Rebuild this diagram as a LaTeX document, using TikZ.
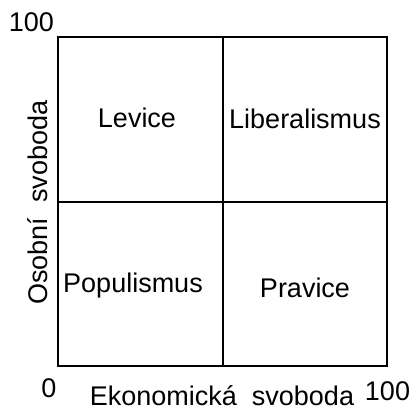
\documentclass[tikz,border=0pt]{standalone}
\usepackage{fontspec}
\setmainfont{Liberation Sans}
\usepackage{tikz}
\usetikzlibrary{positioning}

\begin{document}
\begin{tikzpicture}[
			x=1pt, y=1pt,
			line width=1.5pt,
			label/.style = {font=\fontsize{27}{30}\selectfont, inner sep=0pt, anchor=base},
			]
			\useasboundingbox (0,0) rectangle (411,410);
			% box
			\draw (58,44) rectangle (387,373);
			\draw (223,44) -- (223,373);
			\draw (58,208) -- (387,208);
			% quadrants
			\node[label] (levice) at (137,282) {Levice};
			\node[label] (liberal) at (305,281) {Liberalismus};
			\node[label] (populism) at (133,118) {Populismus};
			\node[label] (pravice) at (305,113) {Pravice};
			% axes
			\node[label] (ymax) at (31.5,378) {100};
			\node[label] (zero) at (49,13) {0};
			\node[label] (xmax) at (387.5,10) {100};
			\node[label] (xlab) at (222,5) {Ekonomická\ \ svoboda};
			\node[label, rotate=90] (ylab) at (47,207.5) {Osobní\ \ svoboda};
		\end{tikzpicture}
\end{document}
